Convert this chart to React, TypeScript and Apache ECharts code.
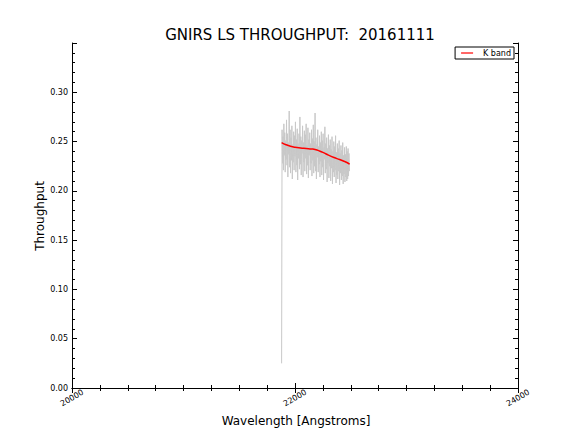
import React, { useEffect, useRef } from "react";
import * as echarts from "echarts";

const titleText = "GNIRS LS THROUGHPUT:  20161111";
const xTickLabels = ["20000", "22000", "24000"];
const yTickLabels = ["0.00", "0.05", "0.10", "0.15", "0.20", "0.25", "0.30"];

// measured spectrum: start wavelength and sampling step (Angstroms)
const specStart = 21880;
const specStep = 4;
const specValues = [
  0.025, 0.262, 0.228, 0.255, 0.221, 0.268, 0.236, 0.259, 0.219, 0.251,
  0.232, 0.272, 0.226, 0.258, 0.214, 0.249, 0.237, 0.281, 0.224, 0.262,
  0.218, 0.254, 0.231, 0.266, 0.212, 0.247, 0.229, 0.26, 0.221, 0.256,
  0.235, 0.27, 0.219, 0.252, 0.226, 0.263, 0.211, 0.248, 0.233, 0.258,
  0.222, 0.275, 0.227, 0.255, 0.216, 0.251, 0.238, 0.266, 0.214, 0.249,
  0.229, 0.261, 0.22, 0.257, 0.233, 0.268, 0.217, 0.246, 0.226, 0.264,
  0.213, 0.252, 0.236, 0.259, 0.221, 0.248, 0.228, 0.262, 0.215, 0.253,
  0.231, 0.267, 0.218, 0.25, 0.225, 0.279, 0.22, 0.254, 0.212, 0.247,
  0.234, 0.262, 0.219, 0.245, 0.227, 0.256, 0.214, 0.249, 0.23, 0.26,
  0.216, 0.251, 0.224, 0.258, 0.211, 0.244, 0.232, 0.265, 0.218, 0.248,
  0.222, 0.254, 0.209, 0.243, 0.228, 0.257, 0.213, 0.246, 0.225, 0.252,
  0.21, 0.242, 0.223, 0.255, 0.207, 0.24, 0.219, 0.25, 0.214, 0.245,
  0.221, 0.256, 0.208, 0.239, 0.216, 0.248, 0.212, 0.243, 0.22, 0.251,
  0.206, 0.238, 0.218, 0.246, 0.211, 0.241, 0.215, 0.249, 0.207, 0.236,
  0.217, 0.244, 0.209, 0.237, 0.214, 0.245, 0.21, 0.24, 0.212, 0.243,
  0.215, 0.238, 0.22,
];

// smooth K band fit
const fitWave = [21880, 21920, 21960, 22000, 22050, 22100, 22150, 22180, 22220, 22260, 22300, 22350, 22400, 22440, 22470, 22490];
const fitValues = [0.249, 0.2468, 0.2452, 0.2442, 0.2435, 0.243, 0.2425, 0.242, 0.2405, 0.2385, 0.2362, 0.2338, 0.2318, 0.23, 0.2285, 0.227];

const FONT = "DejaVu Sans";
const GRID = { left: 72, right: 58, top: 43, bottom: 44, containLabel: false };

export default function App() {
  const ref = useRef<HTMLDivElement>(null);
  useEffect(() => {
    if (!ref.current) return;
    const chart = echarts.init(ref.current, null, { renderer: "svg" });
    const specData = specValues.map((v, i) => [specStart + i * specStep, v]);
    const fitData = fitWave.map((w, i) => [w, fitValues[i]]);
    const axisLine = { show: true, lineStyle: { color: "#000", width: 1 } };
    const majorTick = { show: true, inside: true, length: 5, lineStyle: { color: "#000" } };
    const minorTickAx = { show: true, inside: true, length: 3, lineStyle: { color: "#000" } };
    const xMajor = {
      type: "value" as const,
      gridIndex: 0,
      min: 20000,
      max: 24000,
      interval: 2000,
      splitLine: { show: false },
      axisLine,
      axisTick: majorTick,
    };
    const xMinor = {
      type: "value" as const,
      gridIndex: 1,
      min: 20000,
      max: 24000,
      interval: 250,
      splitLine: { show: false },
      axisLine: { show: false },
      axisTick: minorTickAx,
      axisLabel: { show: false },
    };
    const yMajor = {
      type: "value" as const,
      gridIndex: 0,
      min: 0,
      max: 0.35,
      interval: 0.05,
      splitLine: { show: false },
      axisLine,
      axisTick: majorTick,
    };
    const yMinor = {
      type: "value" as const,
      gridIndex: 1,
      min: 0,
      max: 0.35,
      interval: 0.01,
      splitLine: { show: false },
      axisLine: { show: false },
      axisTick: minorTickAx,
      axisLabel: { show: false },
    };
    chart.setOption({
      animation: false,
      backgroundColor: "#fff",
      textStyle: { fontFamily: FONT },
      grid: [GRID, { ...GRID }],
      title: {
        text: titleText,
        left: 295,
        textAlign: "center",
        top: 22,
        textStyle: { fontFamily: FONT, fontSize: 15, fontWeight: "normal", color: "#000" },
      },
      legend: {
        data: ["K band"],
        right: 62,
        top: 47,
        orient: "vertical",
        icon: "rect",
        itemWidth: 12,
        itemHeight: 1.2,
        itemGap: 4,
        padding: [2, 3, 2, 6],
        borderColor: "#000",
        borderWidth: 1,
        borderRadius: 0,
        backgroundColor: "#fff",
        textStyle: { fontFamily: FONT, fontSize: 8, color: "#000", padding: [0, 0, 0, 5] },
      },
      xAxis: [
        {
          ...xMajor,
          position: "bottom",
          axisLabel: {
            show: true,
            rotate: 30,
            align: "center",
            verticalAlign: "middle",
            margin: 10,
            fontSize: 8,
            color: "#000",
            fontFamily: FONT,
            formatter: (v: number) => {
              const s = String(v);
              return xTickLabels.includes(s) ? s : "";
            },
          },
        },
        { ...xMajor, position: "top", axisLabel: { show: false } },
        { ...xMinor, position: "bottom" },
        { ...xMinor, position: "top" },
      ],
      yAxis: [
        {
          ...yMajor,
          position: "left",
          axisLabel: {
            show: true,
            margin: 4,
            fontSize: 8,
            color: "#000",
            fontFamily: FONT,
            formatter: (v: number) => {
              const s = v.toFixed(2);
              return yTickLabels.includes(s) ? s : "";
            },
          },
        },
        { ...yMajor, position: "right", axisLabel: { show: false } },
        { ...yMinor, position: "left" },
        { ...yMinor, position: "right" },
      ],
      graphic: [
        {
          type: "text",
          x: 296,
          y: 421,
          style: {
            text: "Wavelength [Angstroms]",
            fontFamily: FONT,
            fontSize: 12,
            fill: "#000",
            align: "center",
            verticalAlign: "middle",
          },
        },
        {
          type: "text",
          x: 40,
          y: 216,
          rotation: Math.PI / 2,
          style: {
            text: "Throughput",
            fontFamily: FONT,
            fontSize: 12,
            fill: "#000",
            align: "center",
            verticalAlign: "middle",
          },
        },
      ],
      series: [
        {
          name: "spectrum",
          type: "line",
          xAxisIndex: 0,
          yAxisIndex: 0,
          data: specData,
          showSymbol: false,
          lineStyle: { color: "#c8c8c8", width: 1 },
          itemStyle: { color: "#c8c8c8" },
          z: 2,
        },
        {
          name: "K band",
          type: "line",
          xAxisIndex: 0,
          yAxisIndex: 0,
          data: fitData,
          smooth: true,
          showSymbol: false,
          lineStyle: { color: "#ff0000", width: 1.5 },
          itemStyle: { color: "#ff0000" },
          z: 3,
        },
      ],
    });
    return () => chart.dispose();
  }, []);
  return (
    <div
      ref={ref}
      style={{ position: "fixed", left: 0, top: 0, width: 576, height: 432 }}
    />
  );
}
